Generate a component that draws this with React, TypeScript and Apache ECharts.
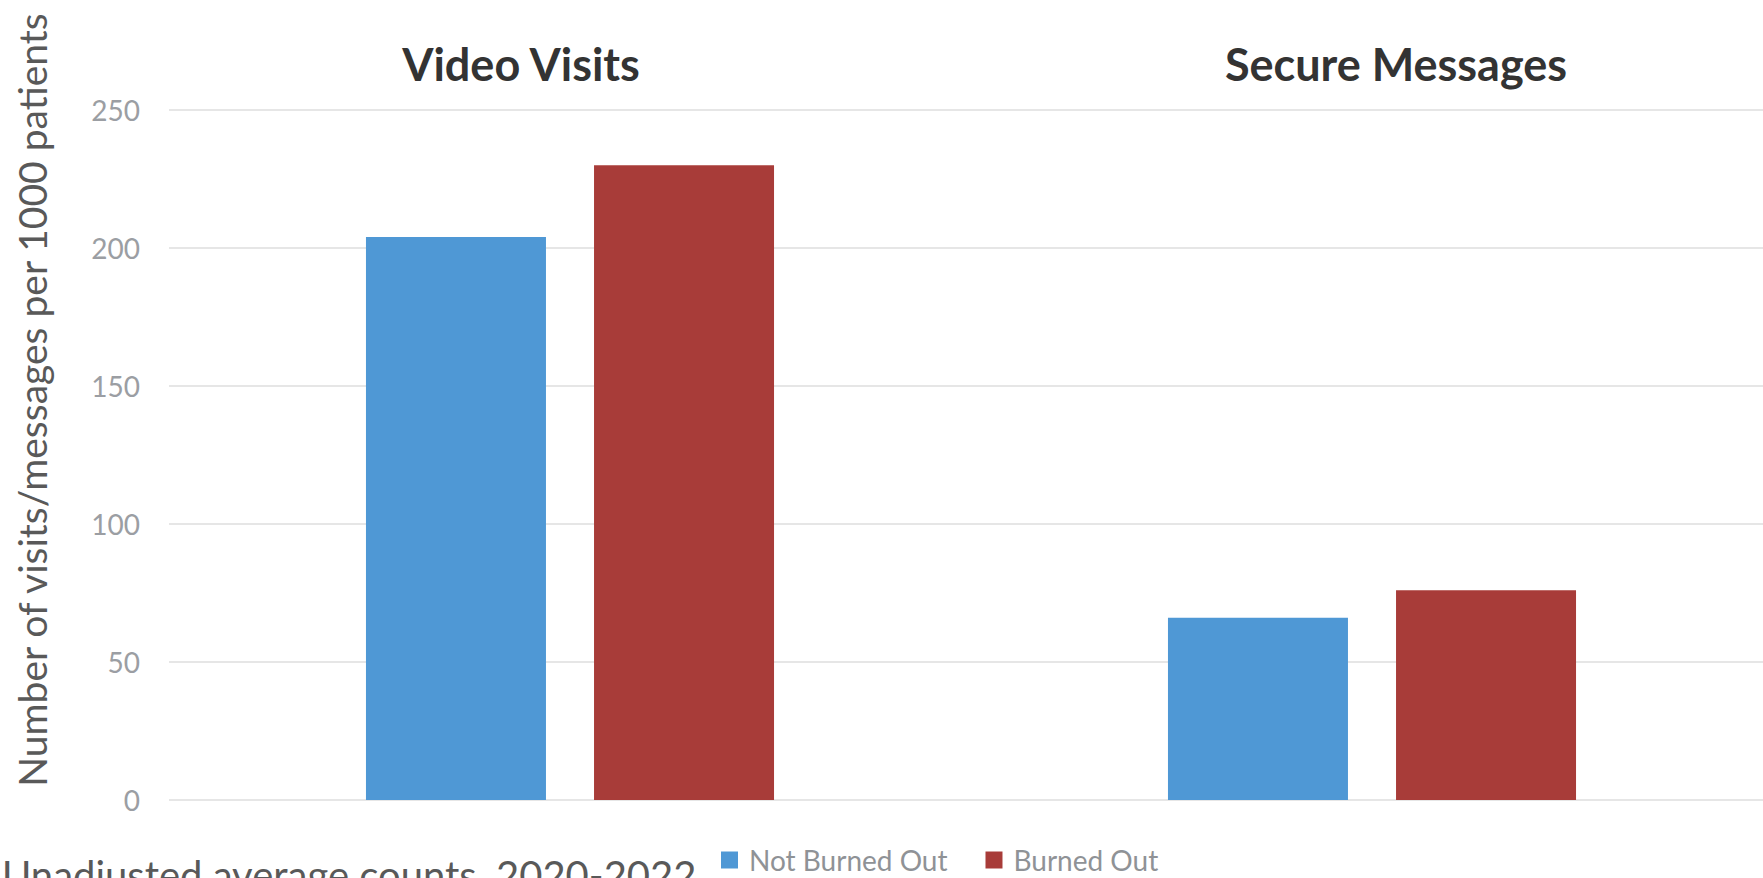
import React, { useEffect, useRef } from "react";
import * as echarts from "echarts";

const categories = ["Video Visits", "Secure Messages"];
const seriesNames = ["Not Burned Out", "Burned Out"];
const notBurnedOut = [204, 66];
const burnedOut = [230, 76];
const yTicks = { min: 0, max: 250, interval: 50 };
const yAxisName = "Number of visits/messages per 1000 patients";
const footnote = "Unadjusted average counts, 2020-2022";

const FONT = "Lato, 'Open Sans', sans-serif";

export default function App() {
  const ref = useRef<HTMLDivElement>(null);
  useEffect(() => {
    if (!ref.current) return;
    const chart = echarts.init(ref.current, undefined, { renderer: "svg" });
    chart.setOption({
      animation: false,
      backgroundColor: "#ffffff",
      grid: { left: 169, top: 110, width: 1604, bottom: 78, containLabel: false },
      xAxis: {
        type: "category",
        data: categories,
        axisLabel: { show: false },
        axisLine: { show: false },
        axisTick: { show: false },
      },
      yAxis: {
        type: "value",
        min: yTicks.min,
        max: yTicks.max,
        interval: yTicks.interval,
        axisLabel: { fontSize: 28, color: "#9b9ea3", margin: 29, fontFamily: FONT },
        axisLine: { show: false },
        axisTick: { show: false },
        splitLine: { lineStyle: { color: "#e6e6e6", width: 2 } },
      },
      legend: {
        data: seriesNames,
        left: 721,
        top: 846,
        padding: 0,
        itemWidth: 17,
        itemHeight: 17,
        itemGap: 38,
        icon: "rect",
        textStyle: { fontSize: 28, color: "#8f9296", fontFamily: FONT, padding: [0, 0, 0, 6] },
      },
      graphic: [
        {
          type: "text",
          x: 32,
          y: 400,
          rotation: Math.PI / 2,
          style: {
            text: yAxisName,
            fontSize: 39,
            fontFamily: FONT,
            fill: "#595959",
            align: "center",
            verticalAlign: "middle",
          },
        },
        {
          type: "text",
          x: 521,
          y: 64,
          style: {
            text: categories[0],
            fontSize: 45,
            fontWeight: "bold",
            fontFamily: FONT,
            fill: "#333333",
            align: "center",
            verticalAlign: "middle",
          },
        },
        {
          type: "text",
          x: 1396,
          y: 64,
          style: {
            text: categories[1],
            fontSize: 45,
            fontWeight: "bold",
            fontFamily: FONT,
            fill: "#333333",
            align: "center",
            verticalAlign: "middle",
          },
        },
        {
          type: "text",
          x: 2,
          y: 855,
          style: {
            text: footnote,
            fontSize: 40,
            fontFamily: FONT,
            fill: "#595959",
            align: "left",
            verticalAlign: "top",
          },
        },
      ],
      series: [
        {
          name: seriesNames[0],
          type: "bar",
          data: notBurnedOut,
          barWidth: 180,
          barGap: "26.7%",
          itemStyle: { color: "#4f98d5" },
        },
        {
          name: seriesNames[1],
          type: "bar",
          data: burnedOut,
          barWidth: 180,
          barGap: "26.7%",
          itemStyle: { color: "#a83c39" },
        },
      ],
    });
    return () => chart.dispose();
  }, []);
  return (
    <div
      ref={ref}
      style={{ position: "fixed", left: 0, top: 0, width: 1800, height: 878, background: "#fff" }}
    />
  );
}
